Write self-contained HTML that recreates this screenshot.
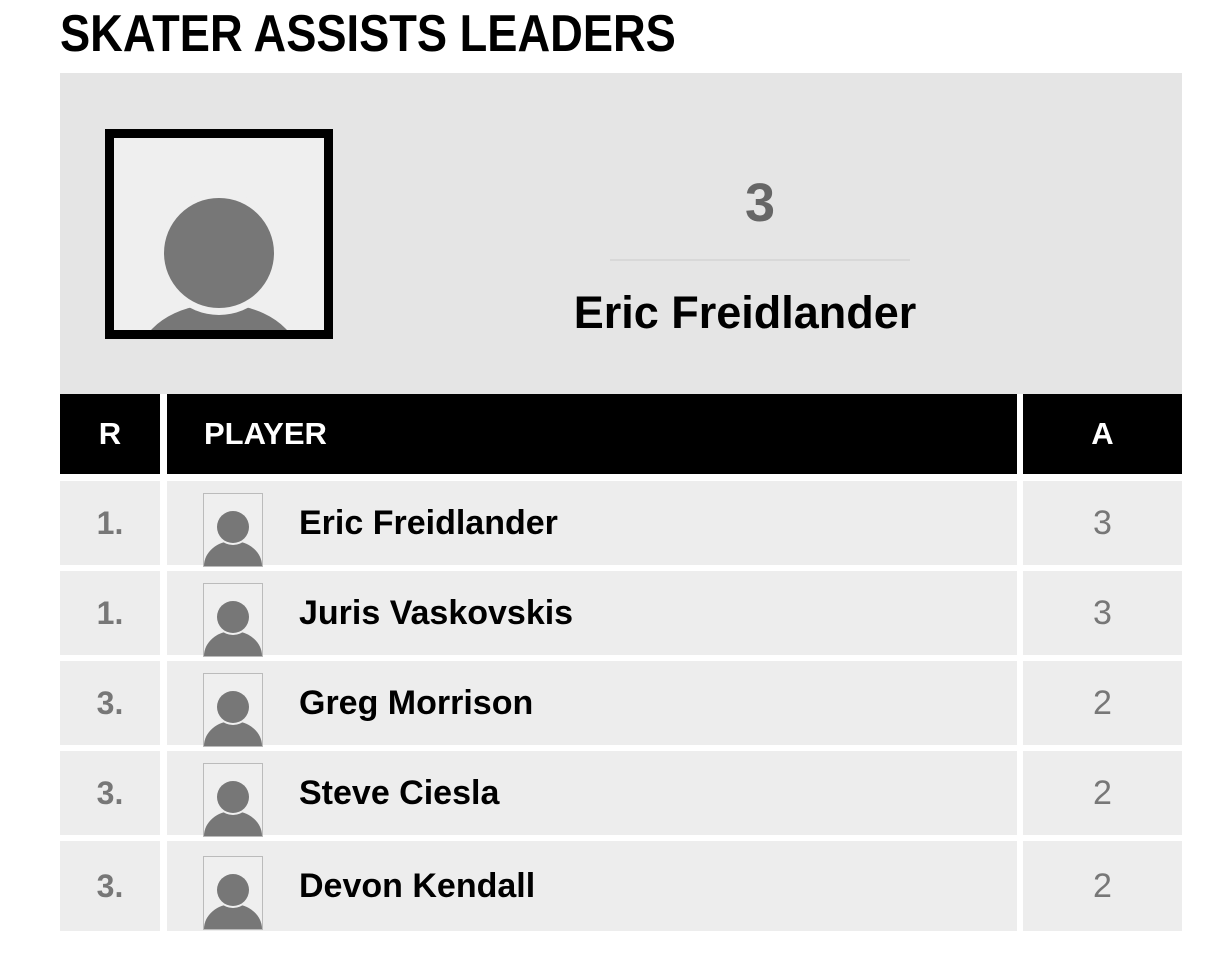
<!DOCTYPE html>
<html><head><style>
body{margin:0;width:1231px;height:979px;background:#fff;font-family:"Liberation Sans",sans-serif;position:relative;overflow:hidden}
.abs{position:absolute}
.title{left:60px;top:4px;font-size:52px;font-weight:bold;color:#000;transform:scaleX(0.87);transform-origin:left top;white-space:nowrap;letter-spacing:0px}
.panel{left:60px;top:73px;width:1122px;height:321px;background:#e5e5e5}
.hdr{top:394px;height:80px;background:#000;color:#fff;font-size:31px;font-weight:bold;line-height:80px}
.cell{background:#ededed;height:84px}
.rank{color:#777;font-size:32px;font-weight:bold;text-align:center;line-height:84px}
.val{color:#777;font-size:34px;text-align:center;line-height:84px}
.name{font-size:34px;font-weight:bold;color:#000;line-height:84px;left:299px}
.thumb{left:203px;width:58px;height:72px;background:#efefef;border:1px solid #bbb;overflow:hidden}
</style></head><body>
<div class="abs title">SKATER ASSISTS LEADERS</div>
<div class="abs panel"></div>
<div class="abs" style="left:105px;top:129px;width:210px;height:192px;border:9px solid #000;background:#efefef;overflow:hidden">
<svg width="210" height="192" viewBox="114 139 210 192" style="display:block">
<ellipse cx="219" cy="360" rx="80" ry="55" fill="#777"/>
<circle cx="219" cy="254" r="62" fill="#efefef"/>
<circle cx="219" cy="254" r="55" fill="#777"/>
</svg></div>
<div class="abs" style="left:610px;top:172px;width:300px;text-align:center;font-size:54px;font-weight:bold;color:#666">3</div>
<div class="abs" style="left:610px;top:259px;width:300px;height:2px;background:#d8d8d8"></div>
<div class="abs" style="left:520px;top:287px;width:450px;text-align:center;font-size:45px;font-weight:bold;color:#000">Eric Freidlander</div>

<div class="abs hdr" style="left:60px;width:100px;text-align:center">R</div>
<div class="abs hdr" style="left:167px;width:850px;padding-left:37px;box-sizing:border-box">PLAYER</div>
<div class="abs hdr" style="left:1023px;width:159px;text-align:center">A</div>

<div class="abs cell rank" style="left:60px;top:481px;width:100px">1.</div>
<div class="abs cell" style="left:167px;top:481px;width:850px"></div>
<div class="abs cell val" style="left:1023px;top:481px;width:159px">3</div>
<div class="abs cell rank" style="left:60px;top:571px;width:100px">1.</div>
<div class="abs cell" style="left:167px;top:571px;width:850px"></div>
<div class="abs cell val" style="left:1023px;top:571px;width:159px">3</div>
<div class="abs cell rank" style="left:60px;top:661px;width:100px">3.</div>
<div class="abs cell" style="left:167px;top:661px;width:850px"></div>
<div class="abs cell val" style="left:1023px;top:661px;width:159px">2</div>
<div class="abs cell rank" style="left:60px;top:751px;width:100px">3.</div>
<div class="abs cell" style="left:167px;top:751px;width:850px"></div>
<div class="abs cell val" style="left:1023px;top:751px;width:159px">2</div>
<div class="abs cell rank" style="left:60px;top:841px;width:100px;height:90px;line-height:90px">3.</div>
<div class="abs cell" style="left:167px;top:841px;width:850px;height:90px"></div>
<div class="abs cell val" style="left:1023px;top:841px;width:159px;height:90px;line-height:90px">2</div>

<div class="abs thumb" style="top:493px"><svg width="58" height="72"><ellipse cx="29" cy="72" rx="29" ry="25" fill="#777"/><circle cx="29" cy="33" r="18" fill="#efefef"/><circle cx="29" cy="33" r="16" fill="#777"/></svg></div>
<div class="abs thumb" style="top:583px"><svg width="58" height="72"><ellipse cx="29" cy="72" rx="29" ry="25" fill="#777"/><circle cx="29" cy="33" r="18" fill="#efefef"/><circle cx="29" cy="33" r="16" fill="#777"/></svg></div>
<div class="abs thumb" style="top:673px"><svg width="58" height="72"><ellipse cx="29" cy="72" rx="29" ry="25" fill="#777"/><circle cx="29" cy="33" r="18" fill="#efefef"/><circle cx="29" cy="33" r="16" fill="#777"/></svg></div>
<div class="abs thumb" style="top:763px"><svg width="58" height="72"><ellipse cx="29" cy="72" rx="29" ry="25" fill="#777"/><circle cx="29" cy="33" r="18" fill="#efefef"/><circle cx="29" cy="33" r="16" fill="#777"/></svg></div>
<div class="abs thumb" style="top:856px"><svg width="58" height="72"><ellipse cx="29" cy="72" rx="29" ry="25" fill="#777"/><circle cx="29" cy="33" r="18" fill="#efefef"/><circle cx="29" cy="33" r="16" fill="#777"/></svg></div>

<div class="abs name" style="top:481px">Eric Freidlander</div>
<div class="abs name" style="top:571px">Juris Vaskovskis</div>
<div class="abs name" style="top:661px">Greg Morrison</div>
<div class="abs name" style="top:751px">Steve Ciesla</div>
<div class="abs name" style="top:844px">Devon Kendall</div>
</body></html>
